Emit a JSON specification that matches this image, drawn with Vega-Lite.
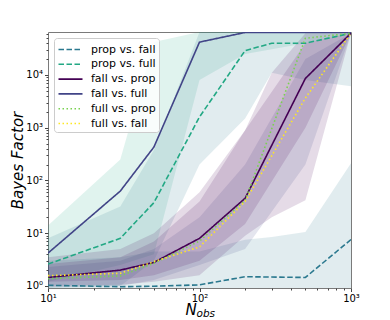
{
  "$schema": "https://vega.github.io/schema/vega-lite/v6.json",
  "width": 303,
  "height": 256,
  "autosize": "none",
  "padding": {"left": 48, "top": 32, "right": 39, "bottom": 32},
  "background": "white",
  "config": {
    "font": "DejaVu Sans",
    "view": {"stroke": "#7a7a7a", "strokeWidth": 1},
    "legend": {
      "orient": "top-left",
      "offset": 6,
      "padding": 3,
      "fillColor": "rgba(255,255,255,0.8)",
      "strokeColor": "#cccccc",
      "cornerRadius": 3,
      "symbolType": "M-1.6,0H1.6",
      "symbolSize": 225,
      "symbolStrokeWidth": 1.6,
      "symbolOffset": 5,
      "labelOffset": 12,
      "labelFontSize": 11,
      "labelColor": "#000000",
      "rowPadding": 0.8,
      "labelLimit": 200
    }
  },
  "datasets": {
    "lines": [
      {"s": "prop vs. fall", "N": 10, "v": 1.03},
      {"s": "prop vs. fall", "N": 30, "v": 0.97},
      {"s": "prop vs. fall", "N": 50, "v": 0.99},
      {"s": "prop vs. fall", "N": 100, "v": 1.05},
      {"s": "prop vs. fall", "N": 200, "v": 1.5},
      {"s": "prop vs. fall", "N": 500, "v": 1.45},
      {"s": "prop vs. fall", "N": 1000, "v": 7.6},
      {"s": "prop vs. full", "N": 10, "v": 2.6},
      {"s": "prop vs. full", "N": 30, "v": 8.0},
      {"s": "prop vs. full", "N": 50, "v": 38},
      {"s": "prop vs. full", "N": 100, "v": 1600},
      {"s": "prop vs. full", "N": 200, "v": 29000},
      {"s": "prop vs. full", "N": 300, "v": 40000},
      {"s": "prop vs. full", "N": 500, "v": 40000},
      {"s": "prop vs. full", "N": 1000, "v": 62000},
      {"s": "fall vs. prop", "N": 10, "v": 1.45},
      {"s": "fall vs. prop", "N": 30, "v": 2.0},
      {"s": "fall vs. prop", "N": 50, "v": 2.8},
      {"s": "fall vs. prop", "N": 100, "v": 8.0},
      {"s": "fall vs. prop", "N": 200, "v": 46},
      {"s": "fall vs. prop", "N": 500, "v": 8600},
      {"s": "fall vs. prop", "N": 1000, "v": 62000},
      {"s": "fall vs. full", "N": 10, "v": 4.2},
      {"s": "fall vs. full", "N": 30, "v": 63},
      {"s": "fall vs. full", "N": 50, "v": 430},
      {"s": "fall vs. full", "N": 100, "v": 42000},
      {"s": "fall vs. full", "N": 200, "v": 64000},
      {"s": "fall vs. full", "N": 500, "v": 64000},
      {"s": "fall vs. full", "N": 1000, "v": 64000},
      {"s": "full vs. prop", "N": 10, "v": 1.38},
      {"s": "full vs. prop", "N": 30, "v": 1.55},
      {"s": "full vs. prop", "N": 50, "v": 2.7},
      {"s": "full vs. prop", "N": 100, "v": 7.1},
      {"s": "full vs. prop", "N": 200, "v": 42},
      {"s": "full vs. prop", "N": 500, "v": 49600},
      {"s": "full vs. prop", "N": 1000, "v": 62000},
      {"s": "full vs. fall", "N": 10, "v": 1.57},
      {"s": "full vs. fall", "N": 30, "v": 1.74},
      {"s": "full vs. fall", "N": 50, "v": 2.9},
      {"s": "full vs. fall", "N": 100, "v": 5.5},
      {"s": "full vs. fall", "N": 200, "v": 40},
      {"s": "full vs. fall", "N": 500, "v": 3650},
      {"s": "full vs. fall", "N": 1000, "v": 62000}
    ],
    "bands": [
      {"b": "fall vs. full", "N": 10, "lo": 1.2, "hi": 14},
      {"b": "fall vs. full", "N": 30, "lo": 2.5, "hi": 250},
      {"b": "fall vs. full", "N": 50, "lo": 4, "hi": 42000},
      {"b": "fall vs. full", "N": 100, "lo": 8000, "hi": 65300},
      {"b": "fall vs. full", "N": 200, "lo": 25000, "hi": 65300},
      {"b": "fall vs. full", "N": 500, "lo": 40000, "hi": 65300},
      {"b": "fall vs. full", "N": 1000, "lo": 60000, "hi": 65300},
      {"b": "prop vs. full", "N": 10, "lo": 0.916, "hi": 8},
      {"b": "prop vs. full", "N": 30, "lo": 1.0, "hi": 32},
      {"b": "prop vs. full", "N": 50, "lo": 3, "hi": 380},
      {"b": "prop vs. full", "N": 100, "lo": 200, "hi": 65300},
      {"b": "prop vs. full", "N": 200, "lo": 1500, "hi": 65300},
      {"b": "prop vs. full", "N": 300, "lo": 11000, "hi": 65300},
      {"b": "prop vs. full", "N": 500, "lo": 8000, "hi": 65300},
      {"b": "prop vs. full", "N": 1000, "lo": 6100, "hi": 65300},
      {"b": "prop vs. fall", "N": 10, "lo": 0.916, "hi": 3},
      {"b": "prop vs. fall", "N": 30, "lo": 0.916, "hi": 3.5},
      {"b": "prop vs. fall", "N": 50, "lo": 0.916, "hi": 4.5},
      {"b": "prop vs. fall", "N": 100, "lo": 0.916, "hi": 4.5},
      {"b": "prop vs. fall", "N": 200, "lo": 0.916, "hi": 7.5},
      {"b": "prop vs. fall", "N": 300, "lo": 0.916, "hi": 8.5},
      {"b": "prop vs. fall", "N": 500, "lo": 0.916, "hi": 10.6},
      {"b": "prop vs. fall", "N": 1000, "lo": 0.916, "hi": 213},
      {"b": "fall vs. prop", "N": 10, "lo": 1.0, "hi": 2.6},
      {"b": "fall vs. prop", "N": 30, "lo": 1.05, "hi": 3.5},
      {"b": "fall vs. prop", "N": 50, "lo": 1.2, "hi": 7},
      {"b": "fall vs. prop", "N": 100, "lo": 1.6, "hi": 40},
      {"b": "fall vs. prop", "N": 200, "lo": 9, "hi": 900},
      {"b": "fall vs. prop", "N": 300, "lo": 20, "hi": 11000},
      {"b": "fall vs. prop", "N": 500, "lo": 42, "hi": 62000},
      {"b": "fall vs. prop", "N": 1000, "lo": 62000, "hi": 62000},
      {"b": "full vs. prop", "N": 10, "lo": 0.95, "hi": 2.3},
      {"b": "full vs. prop", "N": 30, "lo": 1.0, "hi": 3},
      {"b": "full vs. prop", "N": 50, "lo": 1.3, "hi": 5},
      {"b": "full vs. prop", "N": 100, "lo": 2.5, "hi": 20},
      {"b": "full vs. prop", "N": 200, "lo": 5, "hi": 200},
      {"b": "full vs. prop", "N": 500, "lo": 200, "hi": 20000},
      {"b": "full vs. prop", "N": 1000, "lo": 62000, "hi": 62000},
      {"b": "full vs. fall", "N": 10, "lo": 1.2, "hi": 3.5},
      {"b": "full vs. fall", "N": 30, "lo": 1.3, "hi": 5},
      {"b": "full vs. fall", "N": 50, "lo": 1.6, "hi": 10},
      {"b": "full vs. fall", "N": 100, "lo": 3, "hi": 60},
      {"b": "full vs. fall", "N": 200, "lo": 15, "hi": 900},
      {"b": "full vs. fall", "N": 500, "lo": 1000, "hi": 40000},
      {"b": "full vs. fall", "N": 1000, "lo": 62000, "hi": 62000}
    ]
  },
  "layer": [
    {
      "data": {"name": "bands"},
      "mark": {"type": "area", "fillOpacity": 0.14, "clip": true},
      "encoding": {
        "x": {
          "field": "N", "type": "quantitative",
          "scale": {"type": "log", "domain": [10, 1000], "nice": false},
          "axis": {
            "values": [10, 20, 30, 40, 50, 60, 70, 80, 90, 100, 200, 300, 400, 500, 600, 700, 800, 900, 1000],
            "labelExpr": "datum.value == 10 ? '10¹' : datum.value == 100 ? '10²' : datum.value == 1000 ? '10³' : ''",
            "labelOverlap": false,
            "labelFlush": false,
            "labelFontSize": 10,
            "labelColor": "#000000",
            "labelPadding": 2,
            "tickColor": "#444444",
            "tickSize": {"condition": {"test": "indexof([10,100,1000], datum.value) >= 0", "value": 3.5}, "value": 2},
            "domain": false,
            "grid": false,
            "title": "N",
            "titleFontSize": 15,
            "titleFontStyle": "italic",
            "titleFontWeight": "normal",
            "titleColor": "#000000",
            "titleAlign": "left",
            "titleBaseline": "alphabetic",
            "titleX": 137,
            "titleY": 26
          }
        },
        "y": {
          "field": "lo", "type": "quantitative",
          "scale": {"type": "log", "domain": [0.916, 65300], "nice": false},
          "axis": {
            "values": [1, 2, 3, 4, 5, 6, 7, 8, 9, 10, 20, 30, 40, 50, 60, 70, 80, 90, 100, 200, 300, 400, 500, 600, 700, 800, 900, 1000, 2000, 3000, 4000, 5000, 6000, 7000, 8000, 9000, 10000, 20000, 30000, 40000, 50000, 60000],
            "labelExpr": "datum.value == 1 ? '10⁰' : datum.value == 10 ? '10¹' : datum.value == 100 ? '10²' : datum.value == 1000 ? '10³' : datum.value == 10000 ? '10⁴' : ''",
            "labelOverlap": false,
            "labelFlush": false,
            "labelFontSize": 10,
            "labelColor": "#000000",
            "labelPadding": 2,
            "tickColor": "#444444",
            "tickSize": {"condition": {"test": "indexof([1,10,100,1000,10000], datum.value) >= 0", "value": 3.5}, "value": 2},
            "domain": false,
            "grid": false,
            "title": "Bayes Factor",
            "titleFontSize": 15,
            "titleFontStyle": "italic",
            "titleFontWeight": "normal",
            "titleColor": "#000000",
            "titlePadding": 0
          }
        },
        "y2": {"field": "hi"},
        "fill": {
          "field": "b", "type": "nominal",
          "scale": {
            "domain": ["prop vs. fall", "prop vs. full", "fall vs. prop", "fall vs. full", "full vs. prop", "full vs. fall"],
            "range": ["#2a788e", "#2a788e", "#440154", "#22a884", "#414487", "#440154"]
          },
          "legend": null
        }
      }
    },
    {
      "data": {"name": "lines"},
      "mark": {"type": "line", "strokeWidth": 1.6, "clip": true},
      "encoding": {
        "x": {
          "field": "N", "type": "quantitative",
          "scale": {"type": "log", "domain": [10, 1000], "nice": false},
          "axis": {
            "orient": "bottom",
            "labels": false,
            "ticks": false,
            "domain": false,
            "grid": false,
            "title": "obs",
            "titleFontSize": 10.5,
            "titleFontStyle": "italic",
            "titleFontWeight": "normal",
            "titleColor": "#000000",
            "titleAlign": "left",
            "titleBaseline": "alphabetic",
            "titleX": 148,
            "titleY": 28
          }
        },
        "y": {
          "field": "v", "type": "quantitative",
          "scale": {"type": "log", "domain": [0.916, 65300], "nice": false}
        },
        "stroke": {
          "field": "s", "type": "nominal",
          "scale": {
            "domain": ["prop vs. fall", "prop vs. full", "fall vs. prop", "fall vs. full", "full vs. prop", "full vs. fall"],
            "range": ["#2a788e", "#22a884", "#440154", "#414487", "#7ad151", "#fde725"]
          },
          "legend": {"title": null}
        },
        "strokeDash": {
          "field": "s", "type": "nominal",
          "scale": {
            "domain": ["prop vs. fall", "prop vs. full", "fall vs. prop", "fall vs. full", "full vs. prop", "full vs. fall"],
            "range": [[5.5, 2.5], [5.5, 2.5], [1, 0], [1, 0], [1.5, 2.5], [1.5, 2.5]]
          },
          "legend": {"title": null}
        }
      }
    }
  ],
  "resolve": {
    "scale": {"x": "independent"},
    "axis": {"x": "independent"},
    "legend": {"fill": "independent", "stroke": "shared", "strokeDash": "shared"}
  }
}
